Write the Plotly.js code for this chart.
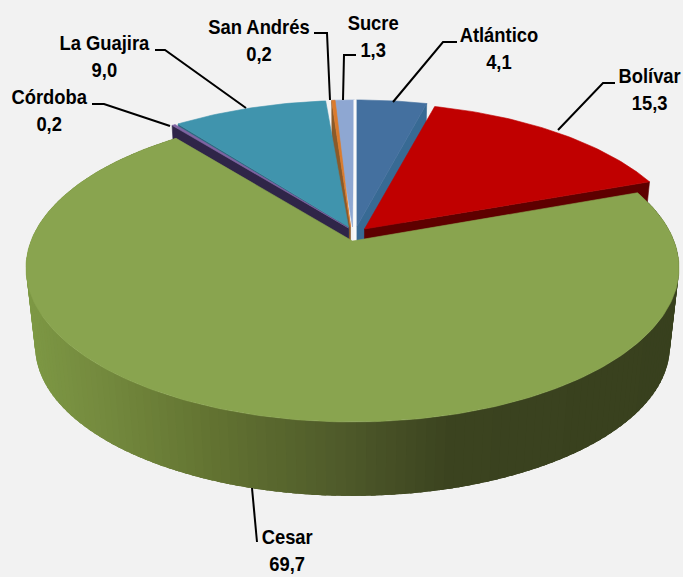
<!DOCTYPE html>
<html><head><meta charset="utf-8">
<script src="https://cdn.plot.ly/plotly-3.0.1.min.js"></script>
<style>html,body{margin:0;padding:0;background:#F2F2F2}#c{width:683px;height:577px}</style>
</head><body><div id="c"></div>
<script>
// ---- data ----
const categories = ["Atlántico","Bolívar","Cesar","Córdoba","La Guajira","San Andrés","Sucre"];
const values = [4.1,15.3,69.7,0.2,9.0,0.2,1.3];

// ---- style ----
const topColors  = ["#44709F","#C00000","#89A44F","#8064A2","#4094AD","#DB7B2C","#8EA7D2"];
const wallColors = ["#386A94","#5E0000","#5A6B2F","#2F2548","#2A6A80","#8A5A2A","#6F86AE"];
const rimShiftX  = [4,12,0,-4,-1,5,2];
const rimShiftY  = [-14,-11,0,-13,-13.5,-14,-14];
const apexShiftX = [4,12,0,-4,-4,-2,0];
const apexShiftY = [-14,-12,0,-13,-14,-14,-14];
const wallEdge   = ["end","end",null,"start","start","start",null];
const drawOrder  = [6,5,4,3,0,1];
const labelCenterX = [499,649,286.5,49,104,259,373];
const labelCenterY = [48,89,550,110,56,40,36];
const leaderX = [[457,443,393],[615,603,558],[252,257],[92,104,170],[155,165,246],[314,327,330],[356,344,343]];
const leaderY = [[42,42,102],[83,83,130],[488,542],[104,104,126],[50,50,108],[33,33,100],[55,55,100]];
const labelFontSize = 21, labelNarrowing = 0.875;

// ---- projection of the pie plane ----
const CX=352.5, CY=241, SX=321.5, SY=149.3, K=0.175, DS=0.972, DY=79;
const rad=d=>d*Math.PI/180;
function proj(theta){const X=Math.sin(rad(theta)),Y=Math.cos(rad(theta)),w=1+K*Y;return [CX+SX*X/w,CY-SY*Y/w];}
function down(p){return [CX+(p[0]-CX)*DS, CY+DY+(p[1]-CY)*DS];}

const total=values.reduce((a,b)=>a+b,0);
let acc=0;
const starts=[],ends=[];
values.forEach(v=>{starts.push(acc/total*360);acc+=v;ends.push(acc/total*360);});

function rim(i,t){const p=proj(t);return [p[0]+rimShiftX[i],p[1]+rimShiftY[i]];}
function apex(i){return [CX+apexShiftX[i],CY+apexShiftY[i]];}
function poly(pts,color,name,lw){
  return {type:"scatter",mode:"lines",fill:"toself",fillcolor:color,
    x:pts.map(p=>p[0]),y:pts.map(p=>p[1]),
    line:{color:color,width:lw===undefined?0.6:lw},hoverinfo:"skip",showlegend:false,name:name||""};
}
function topPoly(i){
  const pts=[apex(i)];
  const n=Math.max(2,Math.ceil(ends[i]-starts[i]));
  for(let k=0;k<=n;k++)pts.push(rim(i,starts[i]+(ends[i]-starts[i])*k/n));
  pts.push(apex(i));
  return poly(pts,topColors[i],categories[i]);
}
function wallPoly(i){
  const t=wallEdge[i]==="end"?ends[i]:starts[i];
  const a=apex(i),r=rim(i,t);
  return poly([a,r,down(r),down(a),a],wallColors[i],categories[i]);
}
const stopX=[24,100,200,340,450,683], stopC=[[125,152,68],[116,138,62],[100,117,50],[79,90,42],[59,67,31],[56,64,30]];
function shade(x){
  for(let k=0;k<stopX.length-1;k++){
    if(x<=stopX[k+1]){
      const f=Math.max(0,(x-stopX[k])/(stopX[k+1]-stopX[k]));
      const c=stopC[k].map((v,j)=>Math.round(v+(stopC[k+1][j]-v)*f));
      return "rgb("+c.join(",")+")";
    }
  }
  return "rgb(56,64,30)";
}

const traces=[];
// walls of the separated slices, then their tops
drawOrder.forEach(i=>{if(wallEdge[i])traces.push(wallPoly(i));});
drawOrder.forEach(i=>traces.push(topPoly(i)));
// pale gap at the left edge of the first slice
const ga=apex(0), gr=rim(0,starts[0]);
traces.push({type:"scatter",mode:"lines",x:[gr[0]-1.5,ga[0]-1.5,ga[0]-1.5],y:[gr[1],ga[1],CY+2],
  line:{color:"#FAFAFA",width:3},hoverinfo:"skip",showlegend:false});
// outer wall of the large slice: overlapping strips so no seams appear
const big=categories.indexOf("Cesar");
const step=1.5;
for(let t=starts[big];t<ends[big];t+=step){
  const a=proj(t),b=proj(Math.min(t+step,ends[big])),c=proj(Math.min(t+step*2.5,ends[big]));
  traces.push(poly([a,b,c,down(c),down(b),down(a),a],shade((a[0]+b[0])/2),"Cesar",0));
}
traces.push(topPoly(big));

const annotations=categories.map((c,i)=>({
  xref:"x",yref:"y",x:labelCenterX[i],y:labelCenterY[i],showarrow:false,align:"center",
  xanchor:"center",yanchor:"middle",
  text:c+"<br>"+values[i].toFixed(1).replace(".",","),
  font:{family:"'Liberation Sans',Arial,sans-serif",size:labelFontSize,color:"#000",weight:700}
}));
const shapes=categories.map((c,i)=>({
  type:"path",xref:"x",yref:"y",
  path:leaderX[i].map((x,k)=>(k?"L":"M")+x+","+leaderY[i][k]).join(" "),
  line:{color:"#000",width:2}
}));

Plotly.newPlot("c",traces,{
  width:683,height:577,margin:{l:0,r:0,t:0,b:0},
  paper_bgcolor:"#F2F2F2",plot_bgcolor:"#F2F2F2",showlegend:false,
  xaxis:{range:[0,683],visible:false,fixedrange:true},
  yaxis:{range:[577,0],visible:false,fixedrange:true},
  annotations:annotations,shapes:shapes
},{displayModeBar:false,staticPlot:true}).then(gd=>{
  // condensed look of the label type
  gd.querySelectorAll("text.annotation-text").forEach(t=>{
    const b=t.getBBox(), cx=b.x+b.width/2;
    t.setAttribute("transform","translate("+cx+",0) scale("+labelNarrowing+",1) translate("+(-cx)+",0)");
  });
});
</script></body></html>
